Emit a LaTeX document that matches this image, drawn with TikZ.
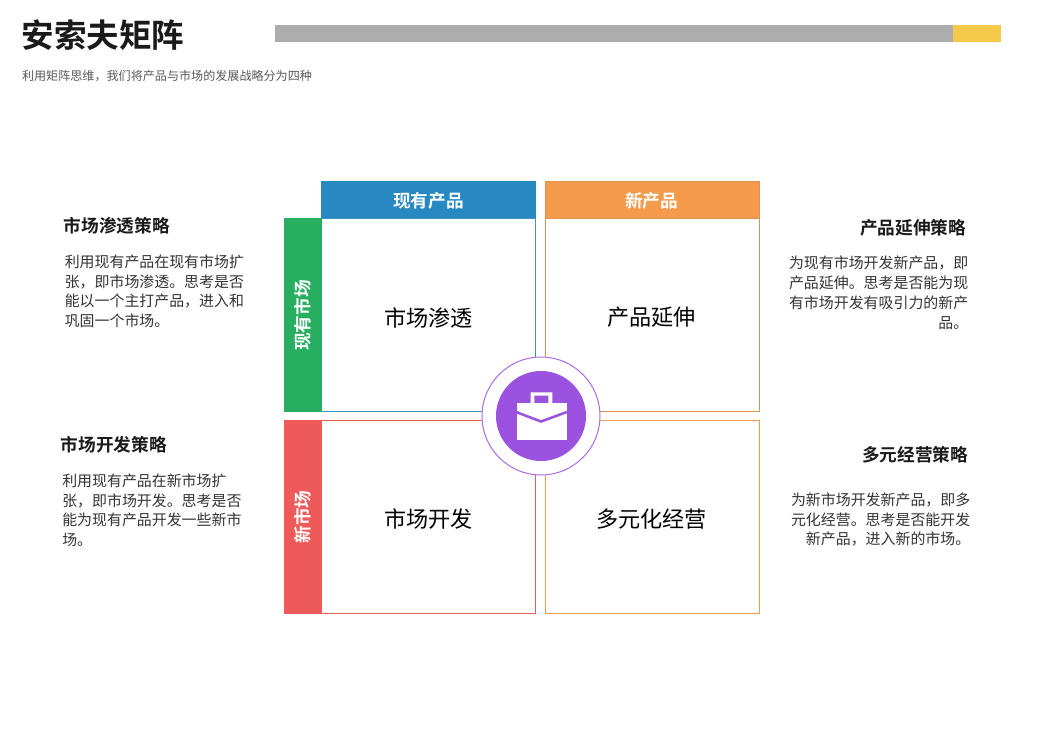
\documentclass[tikz,border=0pt]{standalone}
\usepackage{fontspec}
\setmainfont{Noto Sans CJK SC}
\newfontfamily\cjkbold{Noto Sans CJK SC Bold}
\definecolor{barGray}{HTML}{ADADAD}
\definecolor{barYellow}{HTML}{F5C94A}
\definecolor{hdBlue}{HTML}{2788C2}
\definecolor{hdOrange}{HTML}{F49A4B}
\definecolor{edgeOrange}{HTML}{E0914F}
\definecolor{sideGreen}{HTML}{27AE60}
\definecolor{sideRed}{HTML}{EE5A5A}
\definecolor{iconPurple}{HTML}{9B53DF}
\definecolor{inkDark}{HTML}{1A1A1A}
\definecolor{inkBody}{HTML}{333333}
\definecolor{inkSub}{HTML}{595959}
\tikzset{
  x=0.75pt,y=-0.75pt,
  band/.style={inner sep=0,text=white,font=\cjkbold\fontsize{13.25}{15}\selectfont},
  quad/.style={inner sep=0,text=black,font=\fontsize{16.6}{20}\selectfont},
  headL/.style={inner sep=0,anchor=west,text=inkDark,font=\cjkbold\fontsize{13.25}{15}\selectfont},
  headR/.style={inner sep=0,anchor=east,text=inkDark,font=\cjkbold\fontsize{13.25}{15}\selectfont},
  bodyL/.style={inner sep=0,anchor=north west,align=left,text=inkBody,font=\fontsize{11.2}{14.8}\selectfont},
  bodyR/.style={inner sep=0,anchor=north east,align=right,text=inkBody,font=\fontsize{11.2}{14.8}\selectfont},
}
\begin{document}
\begin{tikzpicture}
\useasboundingbox (0,0) rectangle (1037,734);
\fill[white] (0,0) rectangle (1037,734);
% top bar
\fill[barGray] (275,25) rectangle (953,42);
\fill[barYellow] (953,25) rectangle (1001,42);
\node[inner sep=0,anchor=west,text=inkDark,font=\cjkbold\fontsize{24.4}{28}\selectfont] (title) at (21.5,35.5) {安索夫矩阵};
\node[inner sep=0,anchor=west,text=inkSub,font=\fontsize{9.06}{11}\selectfont] (sub) at (21.8,76.5) {利用矩阵思维，我们将产品与市场的发展战略分为四种};
% quadrants
\draw[hdBlue!90!white,line width=0.75pt] (321.5,218) rectangle (535.5,411.5);
\draw[edgeOrange,line width=0.75pt] (545.5,218) rectangle (759.5,411.5);
\draw[sideRed,line width=0.75pt] (321.5,420.5) rectangle (535.5,613.5);
\draw[hdOrange,line width=0.75pt] (545.5,420.5) rectangle (759.5,613.5);
% headers
\fill[hdBlue] (321,181) rectangle (536,218);
\filldraw[fill=hdOrange,draw=edgeOrange,line width=0.75pt] (545.5,181.5) rectangle (759.5,218);
\fill[sideGreen] (284,218) rectangle (322,412);
\fill[sideRed] (284,420) rectangle (322,614);
\node[band] (h1) at (428.5,201) {现有产品};
\node[band] (h2) at (651.5,201) {新产品};
\node[band,rotate=90] (s1) at (303,315.5) {现有市场};
\node[band,rotate=90] (s2) at (303,517) {新市场};
\node[quad] (q1) at (428.5,317.5) {市场渗透};
\node[quad] (q2) at (651.5,317.5) {产品延伸};
\node[quad] (q3) at (428.5,519.5) {市场开发};
\node[quad] (q4) at (651.5,519.5) {多元化经营};
% centre badge
\filldraw[fill=white,draw=iconPurple!85!white,line width=0.75pt] (541,416) circle (59);
\fill[iconPurple] (541,416) circle (45);
\fill[white,even odd rule] (530.7,392.3) rectangle (552.3,404) (534.3,395.5) rectangle (548.3,403.4);
\fill[white] (516.5,403.4) rectangle (566.7,440);
\draw[iconPurple,line width=1.9pt] (516,412) -- (541,421.5) -- (567,412);
% side text
\node[headL] (t1) at (63.5,226) {市场渗透策略};
\node[bodyL] (b1) at (64.5,254.5) {利用现有产品在现有市场扩\\张，即市场渗透。思考是否\\能以一个主打产品，进入和\\巩固一个市场。};
\node[headL] (t3) at (60.5,445) {市场开发策略};
\node[bodyL] (b3) at (62,473.5) {利用现有产品在新市场扩\\张，即市场开发。思考是否\\能为现有产品开发一些新市\\场。};
\node[headR] (t2) at (966.5,228) {产品延伸策略};
\node[bodyR] (b2) at (968.5,256) {为现有市场开发新产品，即\\产品延伸。思考是否能为现\\有市场开发有吸引力的新产\\品。};
\node[headR] (t4) at (968.5,455) {多元经营策略};
\node[bodyR] (b4) at (970.5,492.5) {为新市场开发新产品，即多\\元化经营。思考是否能开发\\新产品，进入新的市场。};
\end{tikzpicture}
\end{document}
